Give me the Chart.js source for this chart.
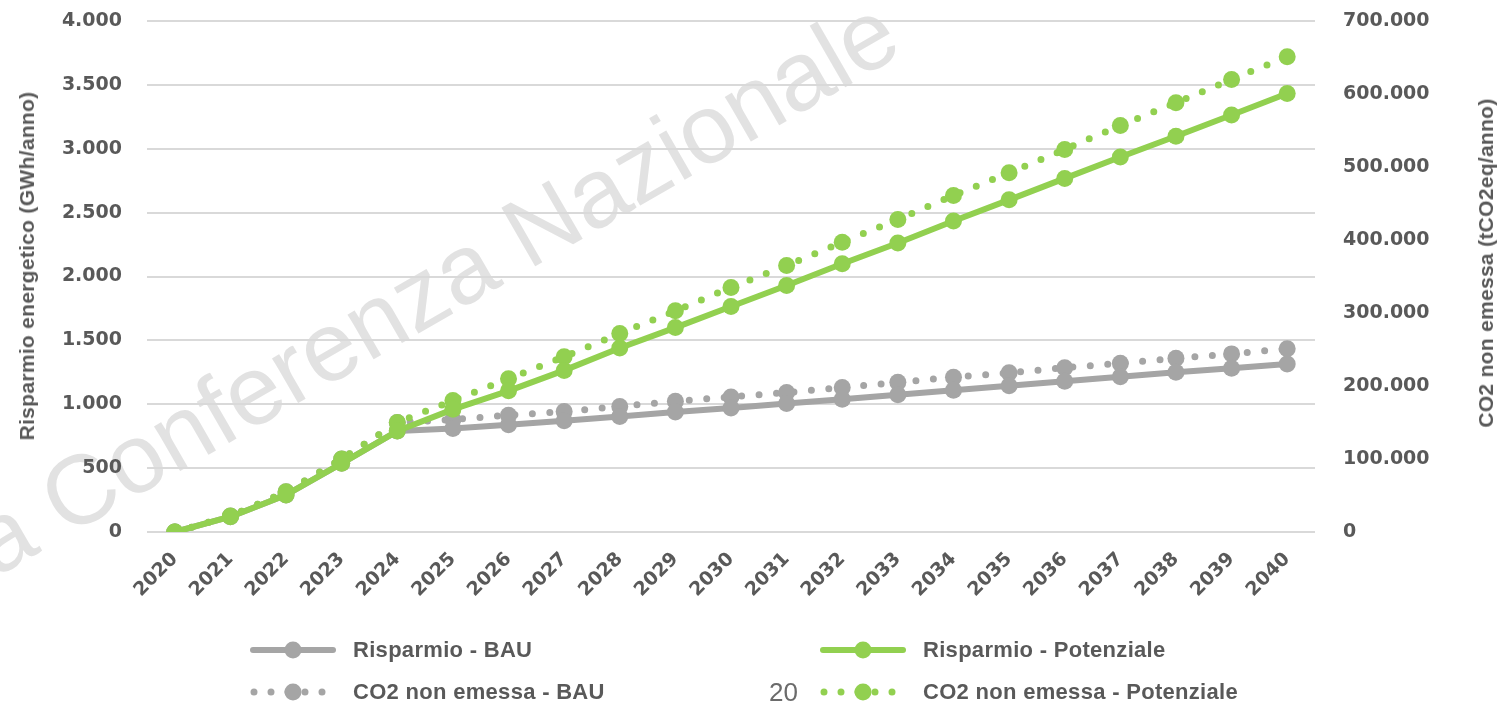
<!DOCTYPE html>
<html lang="it">
<head>
<meta charset="utf-8">
<title>Risparmio energetico e CO2 non emessa</title>
<script src="https://cdn.jsdelivr.net/npm/chart.js@4.4.1/dist/chart.umd.min.js"></script>
<style>
    html, body { margin: 0; padding: 0; background: #fff; }
    #wrap { position: relative; width: 1511px; height: 707px; overflow: hidden; font-family: 'Liberation Sans', Arial, sans-serif; }
    #chart { position: absolute; left: 0; top: 0; z-index: 2; }
    #watermark {
        position: absolute; left: -5px; top: 495px; z-index: 1;
        font-size: 98px; line-height: 98px; color: #e2e2e2; white-space: nowrap;
        transform-origin: 0 83px; transform: rotate(-30deg);
    }
    .axis-title {
        position: absolute; z-index: 3; white-space: nowrap;
        font-size: 21px; font-weight: bold; color: #595959; letter-spacing: 0.3px;
        transform: translate(-50%, -50%) rotate(-90deg);
    }
    .leg { position: absolute; z-index: 3; display: flex; align-items: center; white-space: nowrap;
        font-size: 22px; font-weight: bold; color: #595959; letter-spacing: 0.3px; }
    .leg svg { margin-right: 17px; }
    #page { position: absolute; z-index: 3; left: 769px; top: 677px; font-size: 26px; color: #6b6b6b;
        font-family: 'Liberation Sans Narrow', 'Liberation Sans', sans-serif; }
</style>
</head>
<body>
<div id="wrap">
    <div id="watermark">a Conferenza Nazionale</div>
    <canvas id="chart" width="1511" height="707"></canvas>
    <div class="axis-title" style="left:27px; top:266px;">Risparmio energetico (GWh/anno)</div>
    <div class="axis-title" style="left:1486px; top:263px;">CO2 non emessa (tCO2eq/anno)</div>
    <div id="legend"></div>
    <div id="page">20</div>
</div>
<script>
// anni e serie
const anni = ['2020', '2021', '2022', '2023', '2024', '2025', '2026', '2027', '2028', '2029', '2030',
    '2031', '2032', '2033', '2034', '2035', '2036', '2037', '2038', '2039', '2040'];

// GWh/anno (asse sinistro)
const risparmioBAU = [0, 120, 290, 538, 790, 810, 840, 870, 905, 940, 970,
    1005, 1040, 1075, 1110, 1145, 1180, 1215, 1250, 1282, 1315];
const risparmioPotenziale = [0, 120, 290, 538, 790, 960, 1105, 1265, 1440, 1600, 1765,
    1930, 2100, 2262, 2435, 2600, 2768, 2935, 3098, 3264, 3432];

// tCO2eq/anno (asse destro)
const co2BAU = [0, 22000, 55000, 100000, 150000, 154000, 160000, 165000, 172000, 179000, 185000,
    191000, 198000, 205000, 212000, 218000, 225000, 231000, 238000, 244000, 251000];
const co2Potenziale = [0, 22000, 55000, 100000, 150000, 180000, 210000, 240000, 272000, 303000, 335000,
    365000, 397000, 428000, 461000, 492000, 524000, 557000, 588000, 620000, 651000];

const GRIGIO = '#a5a5a5';
const VERDE = '#92d050';
const TESTO = '#595959';

// separatore migliaia all'italiana
const fmt = v => String(v).replace(/\B(?=(\d{3})+(?!\d))/g, '.');

const tickFont = { family: "'DejaVu Sans', sans-serif", size: 19, weight: 'bold' };

// niente padding extra: l'area del grafico deve partire a y=21
const fissaY = w => s => { s.width = w; s.paddingTop = 0; s.paddingBottom = 0; };

function serie(label, data, color, axis, dotted, order) {
    return {
        label,
        data,
        yAxisID: axis,
        order,
        borderColor: color,
        backgroundColor: color,
        borderWidth: dotted ? 7 : 6,
        borderDash: dotted ? [0, 17.5] : [],
        borderCapStyle: 'round',
        borderJoinStyle: 'round',
        pointRadius: 8.5,
        pointBorderWidth: 0,
        pointBackgroundColor: color,
        tension: 0,
        dotted
    };
}

const datasets = [
    serie('Risparmio - BAU', risparmioBAU, GRIGIO, 'y', false, 3),
    serie('Risparmio - Potenziale', risparmioPotenziale, VERDE, 'y', false, 1),
    serie('CO2 non emessa - BAU', co2BAU, GRIGIO, 'y1', true, 4),
    serie('CO2 non emessa - Potenziale', co2Potenziale, VERDE, 'y1', true, 2)
];

new Chart(document.getElementById('chart').getContext('2d'), {
    type: 'line',
    data: { labels: anni, datasets },
    options: {
        responsive: false,
        animation: false,
        layout: { padding: { top: 21, left: 0, right: 0, bottom: 0 } },
        plugins: { legend: { display: false }, tooltip: { enabled: false } },
        scales: {
            x: {
                offset: true,
                grid: { display: false, drawTicks: false },
                border: { display: false },
                ticks: { color: TESTO, font: tickFont, minRotation: 45, maxRotation: 45, autoSkip: false, padding: 16 },
                afterFit: s => { s.height = 175; s.paddingLeft = 0; s.paddingRight = 0; }
            },
            y: {
                position: 'left',
                min: 0, max: 4000,
                ticks: { stepSize: 500, color: TESTO, font: tickFont, padding: 25, callback: fmt },
                grid: { color: '#d9d9d9', lineWidth: 2, drawTicks: false },
                border: { display: false },
                afterFit: fissaY(147)
            },
            y1: {
                position: 'right',
                min: 0, max: 700000,
                ticks: { stepSize: 100000, color: TESTO, font: tickFont, padding: 28, callback: fmt },
                grid: { display: false, drawTicks: false },
                border: { display: false },
                afterFit: fissaY(196)
            }
        }
    }
});

// legenda su due colonne come nell'originale
const posLegenda = [[250, 648], [820, 648], [250, 690], [820, 690]];
const legend = document.getElementById('legend');
datasets.forEach((ds, k) => {
    const [x, y] = posLegenda[k];
    const line = ds.dotted
        ? `<line x1="4" y1="11" x2="82" y2="11" stroke="${ds.borderColor}" stroke-width="7" stroke-linecap="round" stroke-dasharray="0 17"/>`
        : `<line x1="3" y1="11" x2="83" y2="11" stroke="${ds.borderColor}" stroke-width="6" stroke-linecap="round"/>`;
    const el = document.createElement('div');
    el.className = 'leg';
    el.style.left = x + 'px';
    el.style.top = (y - 11) + 'px';
    el.innerHTML = `<svg width="86" height="22">${line}<circle cx="43" cy="11" r="8.5" fill="${ds.borderColor}"/></svg><span>${ds.label}</span>`;
    legend.appendChild(el);
});
</script>
</body>
</html>
